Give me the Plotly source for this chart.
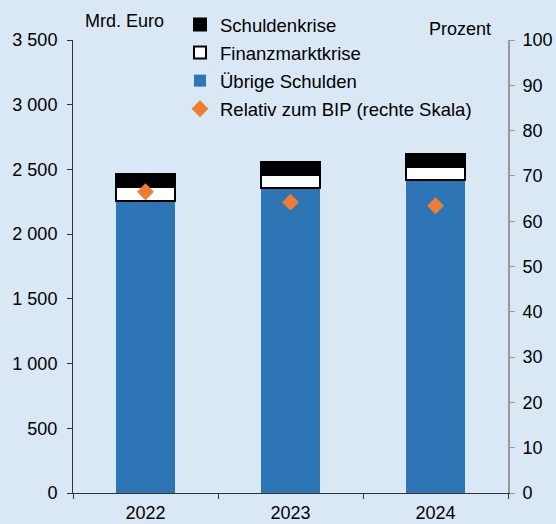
import plotly.graph_objects as go

years = ["2022", "2023", "2024"]
uebrige = [2258, 2359, 2421]
finanz = [106, 98, 95]
schulden = [100, 100, 101]
relativ_bip = [66.5, 64.2, 63.4]

left_ticks = [0, 500, 1000, 1500, 2000, 2500, 3000, 3500]
left_ticktext = ["0", "500", "1 000", "1 500", "2 000", "2 500", "3 000", "3 500"]
right_ticks = [0, 10, 20, 30, 40, 50, 60, 70, 80, 90, 100]

BG = "#dae8f5"
BLUE = "#2e75b6"
ORANGE = "#ed7d31"
FONT = "Liberation Sans, Arial, sans-serif"

W, H = 556, 524
ML, MR, MT, MB = 73, 48, 40, 31
pw, ph = W - ML - MR, H - MT - MB


def px_x(x):
    return (x - ML) / pw


def px_y(y):
    return (H - MB - y) / ph


fig = go.Figure()
fig.add_trace(go.Bar(x=years, y=uebrige, name="Übrige Schulden", legendgroup="c",
                     marker=dict(color=BLUE, line=dict(width=0)), legendrank=3))
fig.add_trace(go.Bar(x=years, y=finanz, name="Finanzmarktkrise", legendgroup="b",
                     marker=dict(color="white", line=dict(color="black", width=2)), legendrank=2))
fig.add_trace(go.Bar(x=years, y=schulden, name="Schuldenkrise", legendgroup="a",
                     marker=dict(color="black", line=dict(color="black", width=2)), legendrank=1))
fig.add_trace(go.Scatter(x=years, y=relativ_bip, name="Relativ zum BIP (rechte Skala)", mode="markers",
                         legendgroup="d", marker=dict(symbol="diamond", size=13, color=ORANGE),
                         yaxis="y2", legendrank=4))

fig.update_layout(
    width=W, height=H,
    margin=dict(l=ML, r=MR, t=MT, b=MB, autoexpand=False),
    paper_bgcolor=BG, plot_bgcolor=BG,
    barmode="stack", bargap=0.59,
    font=dict(family=FONT, size=18, color="black"),
    showlegend=True,
    legend=dict(x=px_x(180), y=px_y(6), xanchor="left", yanchor="top", bgcolor="rgba(0,0,0,0)",
                traceorder="grouped", tracegroupgap=1, font=dict(size=18.5), itemwidth=30),
    xaxis=dict(showline=True, linecolor="#333", linewidth=1, ticks="outside", tickson="boundaries",
               ticklen=5, tickcolor="#333", showgrid=False, ticklabelstandoff=3),
    yaxis=dict(range=[0, 3500], tickvals=left_ticks, ticktext=left_ticktext, showline=True, linecolor="#333",
               linewidth=1, ticks="outside", ticklen=5, tickcolor="#333", showgrid=False, zeroline=False,
               ticklabelstandoff=6),
    yaxis2=dict(range=[0, 100], tickvals=right_ticks, overlaying="y", side="right", showline=True,
                linecolor="#999", linewidth=2, ticks="outside", ticklen=5, tickcolor="#999",
                showgrid=False, zeroline=False, ticklabelstandoff=4),
    annotations=[
        dict(text="Mrd. Euro", x=px_x(124), y=px_y(21), xref="paper", yref="paper", showarrow=False,
             xanchor="center", yanchor="middle"),
        dict(text="Prozent", x=px_x(460), y=px_y(29), xref="paper", yref="paper", showarrow=False,
             xanchor="center", yanchor="middle"),
    ],
)

fig.write_html("out.html", config={"displayModeBar": False})

with open("out.html", "r", encoding="utf-8") as f:
    html = f.read()
html = html.replace("<head>", "<head><style>html,body{margin:0;padding:0;overflow:hidden;}</style>", 1)
with open("out.html", "w", encoding="utf-8") as f:
    f.write(html)
